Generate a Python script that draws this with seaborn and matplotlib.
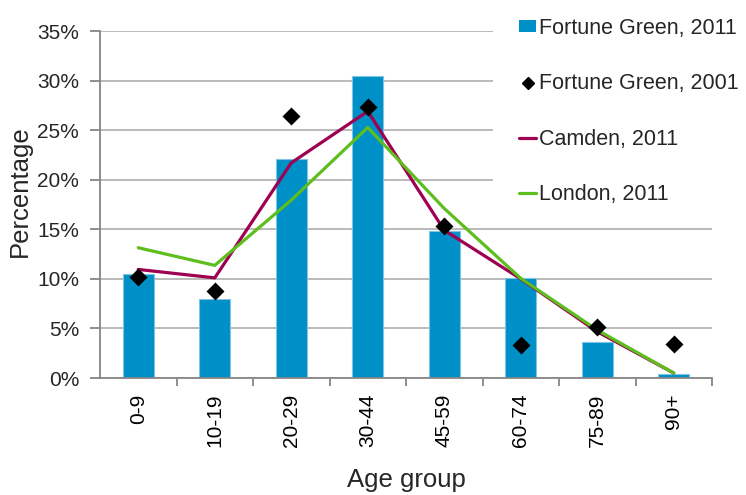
import numpy as np
import pandas as pd
import seaborn as sns
import matplotlib.pyplot as plt
from matplotlib.patches import Patch, Rectangle
from matplotlib.lines import Line2D
from matplotlib.ticker import FuncFormatter, FixedLocator

# data (percent)
age_groups = ["0-9", "10-19", "20-29", "30-44", "45-59", "60-74", "75-89", "90+"]
fortune_green_2011 = [10.45, 7.93, 22.05, 30.44, 14.85, 10.05, 3.6, 0.4]
fortune_green_2001 = [10.15, 8.77, 26.44, 27.35, 15.29, 3.33, 5.17, 3.43]
camden_2011 = [10.95, 10.1, 21.7, 26.9, 14.9, 10.0, 4.67, 0.5]
london_2011 = [13.14, 11.36, 17.94, 25.27, 17.1, 10.05, 4.84, 0.5]

c_bar = "#0090C8"
c_camden = "#9E0052"
c_london = "#5DBE1E"
c_grid = "#B4B4B4"
c_axis = "#868686"

sns.set_style("white")
plt.rcParams["font.family"] = ["Liberation Sans", "DejaVu Sans"]

fig = plt.figure(figsize=(7.46, 4.95), dpi=100)
ax = fig.add_axes([100 / 746, 1 - 378 / 495, 612 / 746, 347 / 495])

df = pd.DataFrame({"age": age_groups, "fg11": fortune_green_2011,
                   "fg01": fortune_green_2001, "camden": camden_2011,
                   "london": london_2011})

sns.barplot(data=df, x="age", y="fg11", color=c_bar, saturation=1, width=0.4,
            edgecolor="#7CC6E4", linewidth=0.8, ax=ax, zorder=2)
sns.pointplot(data=df, x="age", y="camden", color=c_camden, markers="",
              errorbar=None, linewidth=2.3, ax=ax, zorder=3)
sns.pointplot(data=df, x="age", y="london", color=c_london, markers="",
              errorbar=None, linewidth=2.3, ax=ax, zorder=3)
sns.pointplot(data=df, x="age", y="fg01", color="black", marker="D",
              linestyle="none", markersize=7.5, errorbar=None, ax=ax, zorder=4)

ax.set_xlim(-0.5, 7.5)
ax.set_ylim(0, 35)
ax.set_yticks(np.arange(0, 36, 5))
ax.yaxis.set_major_formatter(FuncFormatter(lambda v, p: f"{v:.0f}%"))
ax.grid(axis="y", color=c_grid, linewidth=1.3, zorder=0)
ax.set_axisbelow(True)

for s in ["top", "right"]:
    ax.spines[s].set_visible(False)
for s in ["left", "bottom"]:
    ax.spines[s].set_color(c_axis)
    ax.spines[s].set_linewidth(1.3)

ax.set_xticks(range(len(age_groups)))
ax.set_xticklabels(age_groups, rotation=90)
ax.xaxis.set_minor_locator(FixedLocator(np.arange(0.5, 7.6, 1)))
ax.tick_params(axis="x", which="major", length=0, pad=11, labelsize=15, colors="black")
ax.tick_params(axis="x", which="minor", length=6, width=1.3, color=c_axis, bottom=True)
ax.tick_params(axis="y", length=7, width=1.3, color=c_axis, left=True, pad=8,
               labelsize=15)

ax.set_xlabel("Age group", fontsize=18.5, labelpad=15)
ax.set_ylabel("Percentage", fontsize=18.5, labelpad=4)
ax.yaxis.label.set_y(0.5375)

# white box behind legend
fig.add_artist(Rectangle((493 / 746, 1 - 215 / 495), 253 / 746, 215 / 495,
                         transform=fig.transFigure, facecolor="white",
                         edgecolor="none", zorder=1))

handles = [
    Patch(facecolor=c_bar, edgecolor="none"),
    Line2D([], [], color="black", marker="D", linestyle="none", markersize=6),
    Line2D([], [], color=c_camden, linewidth=2.3),
    Line2D([], [], color=c_london, linewidth=2.3),
]
labels = ["Fortune Green, 2011", "Fortune Green, 2001", "Camden, 2011", "London, 2011"]
fig.legend(handles, labels, loc="upper left", bbox_to_anchor=(519 / 746, 1 - 18 / 495),
           frameon=False, fontsize=15.5, handlelength=0.8, handletextpad=0.12,
           labelspacing=1.6, borderpad=0, borderaxespad=0, handleheight=0.5)

fig.savefig("out.png", dpi=100)
